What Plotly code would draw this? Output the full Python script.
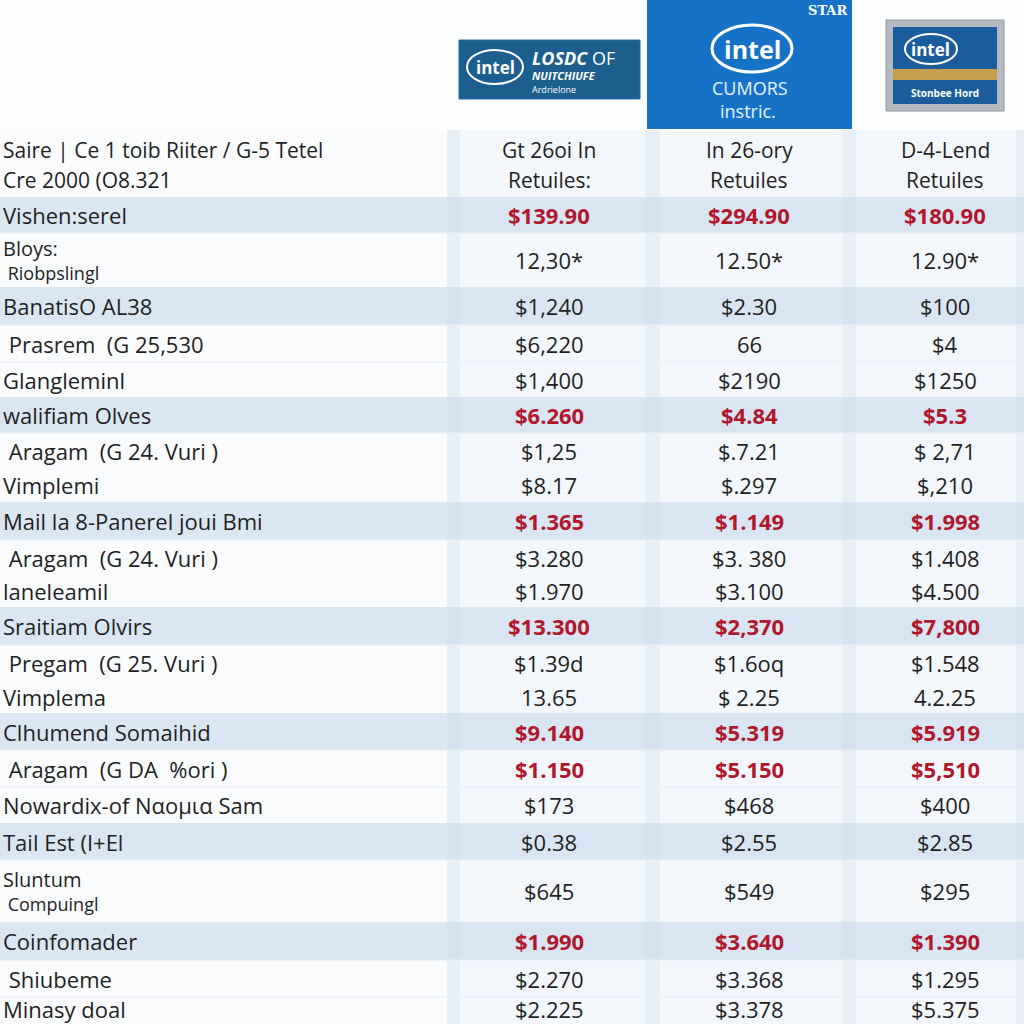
import plotly.graph_objects as go

# ---------------- data ----------------
header_label = ["Saire | Cе 1 toib Riiter / G-5 Tetel", "Cre 2000 (O8.321"]
col_headers = [["Gt 26oi In", "Retuiles:"], ["In 26-ory", "Retuiles"], ["D-4-Lend", "Retuiles"]]

row_labels = [
    ["Vishen:serel"],
    ["Bloys:", " Riobpslingl"],
    ["BanatisO AL38"],
    [" Prasrem  (G 25,530"],
    ["Glanglеminl"],
    ["walifiam Olves"],
    [" Aragam  (G 24. Vuri )"],
    ["Vimplemi"],
    ["Mail la 8-Panerel joui Bmi"],
    [" Aragam  (G 24. Vuri )"],
    ["laneleamil"],
    ["Sraitiam Olvirs"],
    [" Pregam  (G 25. Vuri )"],
    ["Vimplema"],
    ["Clhumend Somaihid"],
    [" Aragam  (G DA  %ori )"],
    ["Nowardix-of Nαομια Sam"],
    ["Tail Est (I+El"],
    ["Sluntum", " Compuingl"],
    ["Coinfomader"],
    [" Shiubeme"],
    ["Minasy doal"],
]
col1 = ["$139.90", "12,30*", "$1,240", "$6,220", "$1,400", "$6.260", "$1,25", "$8.17", "$1.365",
        "$3.280", "$1.970", "$13.300", "$1.39d", "13.65", "$9.140", "$1.150", "$173", "$0.38",
        "$645", "$1.990", "$2.270", "$2.225"]
col2 = ["$294.90", "12.50*", "$2.30", "66", "$2190", "$4.84", "$.7.21", "$.297", "$1.149",
        "$3. 380", "$3.100", "$2,370", "$1.6oq", "$ 2.25", "$5.319", "$5.150", "$468", "$2.55",
        "$549", "$3.640", "$3.368", "$3.378"]
col3 = ["$180.90", "12.90*", "$100", "$4", "$1250", "$5.3", "$ 2,71", "$,210", "$1.998",
        "$1.408", "$4.500", "$7,800", "$1.548", "4.2.25", "$5.919", "$5,510", "$400", "$2.85",
        "$295", "$1.390", "$1.295", "$5.375"]
highlight = [True, False, False, False, False, True, False, False, True, False, False, True,
             False, False, True, True, False, False, False, True, False, False]
shaded = [True, False, True, False, False, True, False, False, True, False, False, True,
          False, False, True, False, False, True, False, True, False, False]

# ---------------- layout geometry ----------------
row_tops = [197, 233, 287, 325, 362, 397, 433, 468, 502, 540, 575, 607, 645, 680, 713, 750, 787,
            823, 860, 922, 960, 997]
row_bottoms = row_tops[1:] + [1034]
continued = {7, 10, 13}          # rows that continue the previous cell (no rule above)
col_x = [549, 749, 945]
RED = "#b0172c"
INK = "#1f1f24"
FONT = "Open Sans"


def nb(t):
    return "&nbsp;" + t[1:] if t.startswith(" ") else t


fig = go.Figure()
fig.add_trace(go.Scatter(x=[0, 1024], y=[0, 1024], mode="markers", marker=dict(opacity=0),
                         hoverinfo="skip", showlegend=False))

shapes = []
ann = []

# table background + column cells
shapes.append(dict(type="rect", x0=0, x1=1024, y0=130, y1=1034, fillcolor="#f9fbfd", line_width=0, layer="below"))
for x0, x1 in [(447, 460), (645, 660), (842, 856), (1016, 1024)]:
    shapes.append(dict(type="rect", x0=x0, x1=x1, y0=130, y1=1034, fillcolor="#e6eef6", line_width=0, layer="below"))
for x0, x1 in [(460, 645), (660, 842), (856, 1016)]:
    shapes.append(dict(type="rect", x0=x0, x1=x1, y0=130, y1=1034, fillcolor="#f3f6fa", line_width=0, layer="below"))

# row bands / separators
for i, top in enumerate(row_tops):
    if shaded[i]:
        shapes.append(dict(type="rect", x0=0, x1=1024, y0=top, y1=row_bottoms[i],
                           fillcolor="rgba(205,222,238,0.7)", line_width=0, layer="below"))
    elif i not in continued:
        shapes.append(dict(type="line", x0=0, x1=1024, y0=top, y1=top,
                           line=dict(color="#e8eef5", width=1), layer="below"))

# header text
for k, yy in enumerate([150, 180]):
    ann.append(dict(x=0, xshift=1, y=yy, text=header_label[k], xanchor="left", yanchor="middle",
                    showarrow=False, font=dict(family=FONT, size=21, color=INK)))
for cx, hdr in zip(col_x, col_headers):
    ann.append(dict(x=cx, y=150, text=hdr[0], xanchor="center", yanchor="middle", showarrow=False,
                    font=dict(family=FONT, size=21, color=INK)))
    ann.append(dict(x=cx, y=180, text=hdr[1], xanchor="center", yanchor="middle", showarrow=False,
                    font=dict(family=FONT, size=21, color=INK)))

# rows
for i in range(len(row_labels)):
    top, bot = row_tops[i], row_bottoms[i]
    mid = (top + bot) / 2 if i < len(row_labels) - 1 else 1009
    labs = row_labels[i]
    if len(labs) == 1:
        ann.append(dict(x=0, xshift=1, y=mid, text=nb(labs[0]), xanchor="left", yanchor="middle",
                        showarrow=False, font=dict(family=FONT, size=22, color=INK)))
    else:
        ys = [mid - 12, mid + 13]
        for k, t in enumerate(labs):
            ann.append(dict(x=0, xshift=1, y=ys[k], text=nb(t), xanchor="left", yanchor="middle",
                            showarrow=False, font=dict(family=FONT, size=20 if k == 0 else 18, color=INK)))
    for cx, vals in zip(col_x, [col1, col2, col3]):
        ann.append(dict(x=cx, y=mid, text=vals[i], xanchor="center", yanchor="middle", showarrow=False,
                        font=dict(family=FONT, size=22, color=RED if highlight[i] else INK,
                                  weight=700 if highlight[i] else 400)))

# ---------------- logos ----------------
# logo 1
shapes.append(dict(type="rect", x0=459, x1=640, y0=40, y1=99, fillcolor="#1c5e8e",
                   line=dict(color="#2a6d9e", width=1)))
shapes.append(dict(type="circle", x0=467, x1=523, y0=50, y1=84, line=dict(color="white", width=2)))
ann.append(dict(x=495, y=67, text="<b>intel</b>", showarrow=False, font=dict(family=FONT, size=17, color="white")))
ann.append(dict(x=530, y=58, text="<b><i>LOSDC</i></b> OF", xanchor="left", showarrow=False,
                font=dict(family=FONT, size=18, color="white")))
ann.append(dict(x=530, y=75, text="<b><i>NUITCHIUFE</i></b>", xanchor="left", showarrow=False,
                font=dict(family=FONT, size=11, color="white")))
ann.append(dict(x=530, y=89, text="Ardrielone", xanchor="left", showarrow=False,
                font=dict(family=FONT, size=9, color="white")))
# logo 2
shapes.append(dict(type="rect", x0=647, x1=852, y0=0, y1=129, fillcolor="#1672c6", line_width=0))
shapes.append(dict(type="circle", x0=712, x1=792, y0=25, y1=72, line=dict(color="white", width=3)))
ann.append(dict(x=752, y=49, text="<b>intel</b>", showarrow=False, font=dict(family=FONT, size=25, color="white")))
ann.append(dict(x=849, y=10, text="<b>STAR</b>", xanchor="right", showarrow=False,
                font=dict(family="DejaVu Serif", size=13, color="white")))
ann.append(dict(x=750, y=88, text="CUMORS", showarrow=False, font=dict(family=FONT, size=18, color="#e8f2fc")))
ann.append(dict(x=748, y=111, text="instric.", showarrow=False, font=dict(family=FONT, size=18, color="#e8f2fc")))
# logo 3
shapes.append(dict(type="rect", x0=886, x1=1004, y0=20, y1=111, fillcolor="#b4bac2",
                   line=dict(color="#8f979f", width=1)))
shapes.append(dict(type="rect", x0=893, x1=997, y0=27, y1=104, fillcolor="#1b5c9c", line_width=0))
shapes.append(dict(type="rect", x0=893, x1=997, y0=69, y1=80, fillcolor="#c59f4e", line_width=0))
shapes.append(dict(type="circle", x0=905, x1=957, y0=34, y1=64, line=dict(color="white", width=2)))
ann.append(dict(x=930, y=49, text="<b>intel</b>", showarrow=False, font=dict(family=FONT, size=17, color="white")))
ann.append(dict(x=945, y=93, text="<b>Stonbee Hord</b>", showarrow=False, font=dict(family=FONT, size=10, color="white")))

fig.update_layout(
    width=1024, height=1024, margin=dict(l=0, r=0, t=0, b=0),
    paper_bgcolor="#fcfdfe", plot_bgcolor="rgba(0,0,0,0)",
    xaxis=dict(range=[0, 1024], visible=False, fixedrange=True),
    yaxis=dict(range=[1024, 0], visible=False, fixedrange=True),
    shapes=shapes, annotations=ann, showlegend=False,
)
fig.write_html("out.html", config={"displayModeBar": False},
               post_script="document.body.style.margin='0';")
